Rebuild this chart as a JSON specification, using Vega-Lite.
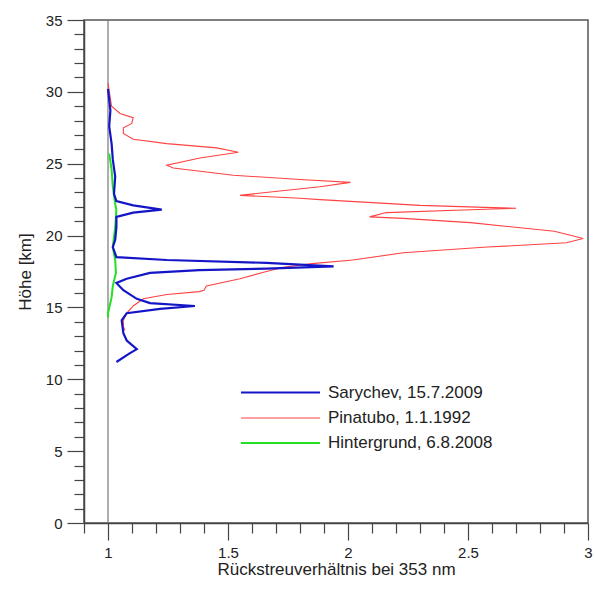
{
  "$schema": "https://vega.github.io/schema/vega-lite/v6.json",
  "width": 504,
  "height": 503,
  "autosize": {"type": "none"},
  "padding": {"left": 84, "top": 20, "right": 7, "bottom": 69},
  "background": "white",
  "config": {
    "font": "Liberation Sans",
    "view": {"stroke": "#555", "strokeWidth": 1.5},
    "axis": {"grid": false, "domainColor": "#444", "tickColor": "#444", "labelColor": "#222", "titleColor": "#222", "labelFont": "Liberation Sans", "titleFont": "Liberation Sans", "labelFontSize": 15, "titleFontSize": 17, "titleFontWeight": "normal", "domainWidth": 1.5, "tickWidth": 1.2}
  },
  "resolve": {"axis": {"x": "independent", "y": "independent"}},
  "datasets": {
    "profiles": [
      {"s": "Pinatubo, 1.1.1992", "i": 1, "r": 1.0, "h": 30.6},
      {"s": "Pinatubo, 1.1.1992", "i": 2, "r": 1.015, "h": 29.0},
      {"s": "Pinatubo, 1.1.1992", "i": 3, "r": 1.05, "h": 28.5},
      {"s": "Pinatubo, 1.1.1992", "i": 4, "r": 1.105, "h": 28.2},
      {"s": "Pinatubo, 1.1.1992", "i": 5, "r": 1.099, "h": 27.8},
      {"s": "Pinatubo, 1.1.1992", "i": 6, "r": 1.064, "h": 27.5},
      {"s": "Pinatubo, 1.1.1992", "i": 7, "r": 1.064, "h": 27.1},
      {"s": "Pinatubo, 1.1.1992", "i": 8, "r": 1.105, "h": 26.7},
      {"s": "Pinatubo, 1.1.1992", "i": 9, "r": 1.245, "h": 26.4},
      {"s": "Pinatubo, 1.1.1992", "i": 10, "r": 1.453, "h": 26.1},
      {"s": "Pinatubo, 1.1.1992", "i": 11, "r": 1.543, "h": 25.8},
      {"s": "Pinatubo, 1.1.1992", "i": 12, "r": 1.383, "h": 25.4},
      {"s": "Pinatubo, 1.1.1992", "i": 13, "r": 1.245, "h": 24.9},
      {"s": "Pinatubo, 1.1.1992", "i": 14, "r": 1.272, "h": 24.7},
      {"s": "Pinatubo, 1.1.1992", "i": 15, "r": 1.522, "h": 24.2},
      {"s": "Pinatubo, 1.1.1992", "i": 16, "r": 1.8, "h": 23.9},
      {"s": "Pinatubo, 1.1.1992", "i": 17, "r": 2.01, "h": 23.7},
      {"s": "Pinatubo, 1.1.1992", "i": 18, "r": 1.883, "h": 23.4},
      {"s": "Pinatubo, 1.1.1992", "i": 19, "r": 1.55, "h": 22.8},
      {"s": "Pinatubo, 1.1.1992", "i": 20, "r": 1.8, "h": 22.6},
      {"s": "Pinatubo, 1.1.1992", "i": 21, "r": 1.883, "h": 22.5},
      {"s": "Pinatubo, 1.1.1992", "i": 22, "r": 2.3, "h": 22.1},
      {"s": "Pinatubo, 1.1.1992", "i": 23, "r": 2.7, "h": 21.9},
      {"s": "Pinatubo, 1.1.1992", "i": 24, "r": 2.51, "h": 21.8},
      {"s": "Pinatubo, 1.1.1992", "i": 25, "r": 2.16, "h": 21.6},
      {"s": "Pinatubo, 1.1.1992", "i": 26, "r": 2.09, "h": 21.3},
      {"s": "Pinatubo, 1.1.1992", "i": 27, "r": 2.23, "h": 21.2},
      {"s": "Pinatubo, 1.1.1992", "i": 28, "r": 2.51, "h": 20.9},
      {"s": "Pinatubo, 1.1.1992", "i": 29, "r": 2.86, "h": 20.3},
      {"s": "Pinatubo, 1.1.1992", "i": 30, "r": 2.98, "h": 19.8},
      {"s": "Pinatubo, 1.1.1992", "i": 31, "r": 2.91, "h": 19.5},
      {"s": "Pinatubo, 1.1.1992", "i": 32, "r": 2.58, "h": 19.2},
      {"s": "Pinatubo, 1.1.1992", "i": 33, "r": 2.23, "h": 18.8},
      {"s": "Pinatubo, 1.1.1992", "i": 34, "r": 2.02, "h": 18.3},
      {"s": "Pinatubo, 1.1.1992", "i": 35, "r": 1.85, "h": 18.05},
      {"s": "Pinatubo, 1.1.1992", "i": 36, "r": 1.73, "h": 17.8},
      {"s": "Pinatubo, 1.1.1992", "i": 37, "r": 1.66, "h": 17.5},
      {"s": "Pinatubo, 1.1.1992", "i": 38, "r": 1.55, "h": 17.0},
      {"s": "Pinatubo, 1.1.1992", "i": 39, "r": 1.41, "h": 16.5},
      {"s": "Pinatubo, 1.1.1992", "i": 40, "r": 1.40, "h": 16.2},
      {"s": "Pinatubo, 1.1.1992", "i": 41, "r": 1.38, "h": 16.1},
      {"s": "Pinatubo, 1.1.1992", "i": 42, "r": 1.245, "h": 15.9},
      {"s": "Pinatubo, 1.1.1992", "i": 43, "r": 1.147, "h": 15.6},
      {"s": "Pinatubo, 1.1.1992", "i": 44, "r": 1.105, "h": 15.1},
      {"s": "Pinatubo, 1.1.1992", "i": 45, "r": 1.078, "h": 14.6},
      {"s": "Pinatubo, 1.1.1992", "i": 46, "r": 1.064, "h": 14.1},
      {"s": "Pinatubo, 1.1.1992", "i": 47, "r": 1.064, "h": 13.7},
      {"s": "Pinatubo, 1.1.1992", "i": 48, "r": 1.07, "h": 13.4},

      {"s": "Hintergrund, 6.8.2008", "i": 1, "r": 1.005, "h": 25.7},
      {"s": "Hintergrund, 6.8.2008", "i": 2, "r": 1.015, "h": 24.6},
      {"s": "Hintergrund, 6.8.2008", "i": 3, "r": 1.02, "h": 23.4},
      {"s": "Hintergrund, 6.8.2008", "i": 4, "r": 1.03, "h": 22.2},
      {"s": "Hintergrund, 6.8.2008", "i": 5, "r": 1.035, "h": 21.8},
      {"s": "Hintergrund, 6.8.2008", "i": 6, "r": 1.03, "h": 20.6},
      {"s": "Hintergrund, 6.8.2008", "i": 7, "r": 1.02, "h": 19.2},
      {"s": "Hintergrund, 6.8.2008", "i": 8, "r": 1.03, "h": 18.3},
      {"s": "Hintergrund, 6.8.2008", "i": 9, "r": 1.033, "h": 17.4},
      {"s": "Hintergrund, 6.8.2008", "i": 10, "r": 1.02, "h": 16.5},
      {"s": "Hintergrund, 6.8.2008", "i": 11, "r": 1.015, "h": 15.7},
      {"s": "Hintergrund, 6.8.2008", "i": 12, "r": 1.0, "h": 14.6},
      {"s": "Hintergrund, 6.8.2008", "i": 13, "r": 1.0, "h": 14.3},

      {"s": "Sarychev, 15.7.2009", "i": 1, "r": 1.0, "h": 30.2},
      {"s": "Sarychev, 15.7.2009", "i": 2, "r": 1.01, "h": 28.7},
      {"s": "Sarychev, 15.7.2009", "i": 3, "r": 1.005, "h": 27.6},
      {"s": "Sarychev, 15.7.2009", "i": 4, "r": 1.015, "h": 26.4},
      {"s": "Sarychev, 15.7.2009", "i": 5, "r": 1.02, "h": 25.3},
      {"s": "Sarychev, 15.7.2009", "i": 6, "r": 1.03, "h": 24.1},
      {"s": "Sarychev, 15.7.2009", "i": 7, "r": 1.025, "h": 22.9},
      {"s": "Sarychev, 15.7.2009", "i": 8, "r": 1.035, "h": 22.4},
      {"s": "Sarychev, 15.7.2009", "i": 9, "r": 1.105, "h": 22.1},
      {"s": "Sarychev, 15.7.2009", "i": 10, "r": 1.224, "h": 21.8},
      {"s": "Sarychev, 15.7.2009", "i": 11, "r": 1.105, "h": 21.6},
      {"s": "Sarychev, 15.7.2009", "i": 12, "r": 1.035, "h": 21.3},
      {"s": "Sarychev, 15.7.2009", "i": 13, "r": 1.035, "h": 20.6},
      {"s": "Sarychev, 15.7.2009", "i": 14, "r": 1.03, "h": 19.7},
      {"s": "Sarychev, 15.7.2009", "i": 15, "r": 1.02, "h": 19.2},
      {"s": "Sarychev, 15.7.2009", "i": 16, "r": 1.035, "h": 18.5},
      {"s": "Sarychev, 15.7.2009", "i": 17, "r": 1.245, "h": 18.3},
      {"s": "Sarychev, 15.7.2009", "i": 18, "r": 1.66, "h": 18.1},
      {"s": "Sarychev, 15.7.2009", "i": 19, "r": 1.94, "h": 17.85},
      {"s": "Sarychev, 15.7.2009", "i": 20, "r": 1.66, "h": 17.7},
      {"s": "Sarychev, 15.7.2009", "i": 21, "r": 1.38, "h": 17.6},
      {"s": "Sarychev, 15.7.2009", "i": 22, "r": 1.175, "h": 17.4},
      {"s": "Sarychev, 15.7.2009", "i": 23, "r": 1.078, "h": 17.0},
      {"s": "Sarychev, 15.7.2009", "i": 24, "r": 1.035, "h": 16.7},
      {"s": "Sarychev, 15.7.2009", "i": 25, "r": 1.064, "h": 16.2},
      {"s": "Sarychev, 15.7.2009", "i": 26, "r": 1.12, "h": 15.6},
      {"s": "Sarychev, 15.7.2009", "i": 27, "r": 1.175, "h": 15.3},
      {"s": "Sarychev, 15.7.2009", "i": 28, "r": 1.362, "h": 15.1},
      {"s": "Sarychev, 15.7.2009", "i": 29, "r": 1.217, "h": 14.9},
      {"s": "Sarychev, 15.7.2009", "i": 30, "r": 1.078, "h": 14.6},
      {"s": "Sarychev, 15.7.2009", "i": 31, "r": 1.057, "h": 14.1},
      {"s": "Sarychev, 15.7.2009", "i": 32, "r": 1.064, "h": 13.2},
      {"s": "Sarychev, 15.7.2009", "i": 33, "r": 1.078, "h": 12.7},
      {"s": "Sarychev, 15.7.2009", "i": 34, "r": 1.12, "h": 12.1},
      {"s": "Sarychev, 15.7.2009", "i": 35, "r": 1.09, "h": 11.8},
      {"s": "Sarychev, 15.7.2009", "i": 36, "r": 1.035, "h": 11.2}
    ],
    "baseline": [{"ratio": 1}]
  },
  "layer": [
    {
      "data": {"name": "baseline"},
      "mark": {"type": "rule", "color": "#777", "strokeWidth": 1.2},
      "encoding": {"x": {"field": "ratio", "type": "quantitative", "scale": {"domain": [0.9, 3], "nice": false, "zero": false},
        "axis": {"orient": "bottom", "values": [0.9, 1.1, 1.2, 1.3, 1.4, 1.6, 1.7, 1.8, 1.9, 2.1, 2.2, 2.3, 2.4, 2.6, 2.7, 2.8, 2.9], "labels": false, "domain": false, "tickSize": 10, "title": null}}}
    },
    {
      "data": {"name": "baseline"},
      "mark": {"type": "rule", "opacity": 0},
      "encoding": {"y": {"datum": 0, "type": "quantitative", "scale": {"domain": [0, 35], "nice": false},
        "axis": {"orient": "left", "values": [1,2,3,4,6,7,8,9,11,12,13,14,16,17,18,19,21,22,23,24,26,27,28,29,31,32,33,34], "labels": false, "domain": false, "tickSize": 10, "title": null}}}
    },
    {
      "data": {"name": "profiles"},
      "mark": {"type": "line", "interpolate": "linear", "clip": true},
      "encoding": {
        "x": {"field": "r", "type": "quantitative", "title": "Rückstreuverhältnis bei 353 nm",
              "scale": {"domain": [0.9, 3], "nice": false, "zero": false},
              "axis": {"orient": "bottom", "values": [1, 1.5, 2, 2.5, 3], "format": "~g", "tickSize": 17, "labelPadding": 5, "titlePadding": 1, "labelFlush": false}},
        "y": {"field": "h", "type": "quantitative", "title": "Höhe [km]",
              "scale": {"domain": [0, 35], "nice": false},
              "axis": {"orient": "left", "values": [0, 5, 10, 15, 20, 25, 30, 35], "tickSize": 17, "labelPadding": 5, "titlePadding": 11}},
        "color": {"field": "s", "type": "nominal",
                  "scale": {"domain": ["Sarychev, 15.7.2009", "Pinatubo, 1.1.1992", "Hintergrund, 6.8.2008"], "range": ["#1515c8", "#ff4242", "#22e022"]},
                  "legend": {"title": null, "orient": "none", "legendX": 187, "legendY": 363, "padding": 0,
                             "symbolType": "M-5,0H5", "symbolSize": 250, "symbolStrokeWidth": 2.2, "labelLimit": 400,
                             "labelFont": "Liberation Sans", "labelFontSize": 17, "labelColor": "#222", "labelOffset": 38, "rowPadding": 7.5}},
        "strokeWidth": {"field": "s", "type": "nominal",
                        "scale": {"type": "ordinal", "domain": ["Sarychev, 15.7.2009", "Pinatubo, 1.1.1992", "Hintergrund, 6.8.2008"], "range": [2.2, 1.1, 2]},
                        "legend": null},
        "order": {"field": "i", "type": "quantitative"}
      }
    }
  ]
}
